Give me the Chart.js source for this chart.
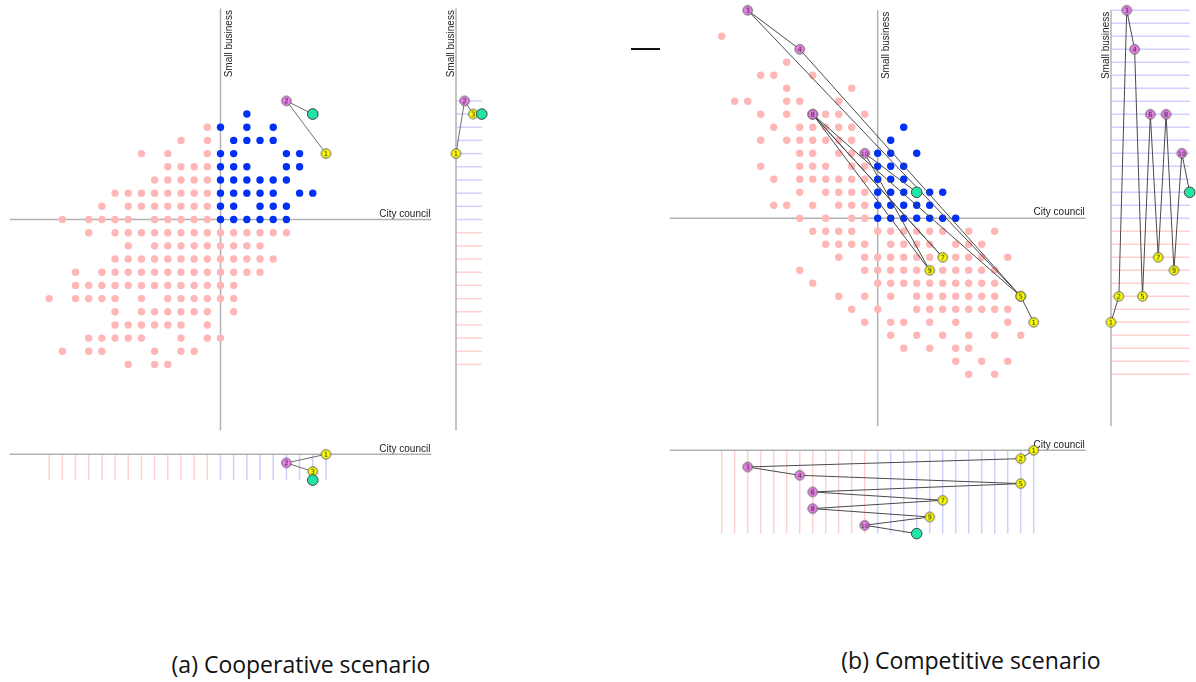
<!DOCTYPE html>
<html>
<head>
<meta charset="utf-8">
<title>Cooperative vs competitive scenario</title>
<script src="https://cdn.jsdelivr.net/npm/chart.js@4.4.1/dist/chart.umd.min.js"></script>
<style>
  html, body { margin: 0; padding: 0; background: #fff; }
  body { width: 1196px; height: 682px; position: relative; overflow: hidden; }
  canvas { position: absolute; left: 0; top: 0; }
  .caption {
    position: absolute; transform: translate(-50%, -50%);
    font-family: "Open Sans", sans-serif; font-size: 23px; color: #111; white-space: nowrap;
  }
  .dash { position: absolute; left: 631px; top: 48px; width: 29px; height: 2px; background: #111; }
</style>
</head>
<body>
<div class="dash"></div>
<div class="caption" style="left:301px; top:664px">(a) Cooperative scenario</div>
<div class="caption" style="left:971px; top:660px">(b) Competitive scenario</div>
<script>
// (a) cooperative scenario - grid of outcomes, one list of columns per row
const coopRows = [8, 7, 6, 5, 4, 3, 2, 1, 0, -1, -2, -3, -4, -5, -6, -7, -8, -9, -10, -11];
const coopCols = [
    [2],
    [-1, 0, 2, 4],
    [-3, -1, 1, 2, 3, 4],
    [-6, -4, -1, 0, 1, 5, 6],
    [-4, -3, -2, -1, 0, 1, 2, 5, 6],
    [-5, -4, -3, -2, -1, 0, 1, 2, 3, 4, 5],
    [-8, -7, -6, -5, -4, -3, -2, -1, 0, 1, 2, 3, 4, 6, 7],
    [-9, -7, -6, -5, -4, -3, -2, -1, 0, 1, 3, 4, 5],
    [-12, -10, -9, -8, -7, -5, -4, -3, -2, -1, 0, 1, 2, 3, 4, 5],
    [-10, -8, -7, -6, -5, -4, -3, -2, -1, 0, 1, 2, 3, 4, 5],
    [-7, -5, -4, -3, -2, -1, 0, 1, 2, 3],
    [-8, -7, -6, -5, -4, -3, -2, -1, 0, 1, 2, 3, 4],
    [-11, -9, -8, -7, -6, -5, -4, -3, -2, -1, 0, 1, 2, 3],
    [-11, -10, -9, -8, -7, -6, -5, -4, -3, -2, -1, 0, 1],
    [-13, -11, -10, -9, -8, -6, -4, -3, -2, -1, 0, 1],
    [-8, -6, -5, -4, -3, -2, -1, 1],
    [-8, -7, -6, -5, -4, -3, -1],
    [-10, -9, -8, -7, -6, -3, -1, 0],
    [-12, -10, -9, -5, -3, -2],
    [-7, -5, -4]
];
// moves 1..3 (council / business), then the final outcome
const coopMoveX = [8, 5, 7];
const coopMoveY = [5, 9, 8];
const coopMover = ['council', 'business', 'council'];
const coopEnd = [7, 8];

// (b) competitive scenario
const compRows = [14, 12, 11, 10, 9, 8, 7, 6, 5, 4, 3, 2, 1, 0, -1, -2, -3, -4, -5, -6, -7, -8, -9, -10, -11, -12];
const compCols = [
    [-12],
    [-7],
    [-9, -8, -5],
    [-7, -2],
    [-11, -10, -7, -6, -3],
    [-9, -7, -4, -3, -1],
    [-8, -6, -5, -4, -3, -2, 2],
    [-9, -7, -6, -5, -4, -3, -2, 1],
    [-6, -5, -3, -2, 0, 1, 3],
    [-9, -6, -5, -4, -2, -1, 0, 1, 2],
    [-8, -6, -5, -4, -3, -2, -1, 0, 1, 2],
    [-6, -4, -3, -2, -1, 0, 1, 2, 3, 4, 5],
    [-8, -7, -5, -3, -2, -1, 0, 1, 2, 3, 4],
    [-6, -4, -2, -1, 0, 1, 2, 3, 4, 5, 6],
    [-5, -4, -3, -2, 0, 1, 2, 3, 4, 5, 7, 9],
    [-4, -3, -2, -1, 1, 2, 3, 4, 6, 7, 8],
    [-3, -1, 0, 1, 2, 3, 4, 6, 7, 8, 10],
    [-6, -1, 0, 1, 2, 3, 5, 6, 7, 8, 9],
    [-5, 0, 1, 2, 3, 4, 5, 6, 7, 8, 9],
    [-3, -1, 1, 3, 4, 5, 6, 7, 8, 9],
    [-2, 0, 3, 4, 5, 6, 7, 8, 9, 10],
    [-1, 1, 2, 4, 6, 10],
    [1, 3, 5, 7, 9, 11],
    [2, 4, 6, 7],
    [6, 8, 10],
    [7, 9]
];
const compMoveX = [12, 11, -10, -6, 11, -5, 5, -5, 4, -1];
const compMoveY = [-8, -6, 16, 13, -6, 8, -3, 8, -4, 5];
const compMover = ['council', 'council', 'business', 'business', 'council', 'business', 'council', 'business', 'council', 'business'];
const compEnd = [3, 2];

const xAxisName = 'City council';
const yAxisName = 'Small business';

const W = 1196, H = 682;
const SPAN = 16;
const PINK = 'rgb(255,182,182)';
const BLUE = 'rgb(0,48,245)';
const STRIP_PINK = 'rgb(255,208,208)';
const STRIP_BLUE = 'rgb(208,208,255)';
const AXIS_GREY = 'rgb(178,178,178)';
const END_GREEN = 'rgb(32,228,168)';
const MOVER_COLORS = { council: '#ffff00', business: '#ee82ee' };
const LABEL_FONT = '10px "Liberation Sans", Arial, sans-serif';

function gridPoints(rows, cols, wantBlue) {
    const pts = [];
    rows.forEach((r, i) => cols[i].forEach(c => {
        if ((r >= 0 && c >= 0) === wantBlue) pts.push({ x: c, y: r });
    }));
    return pts;
}

// small numbered disc used as a point style
function markerIcon(label, mover) {
    const c = document.createElement('canvas');
    c.width = 13; c.height = 13;
    const g = c.getContext('2d');
    g.beginPath();
    g.arc(6.5, 6.5, 4.7, 0, Math.PI * 2);
    g.fillStyle = MOVER_COLORS[mover];
    g.fill();
    g.lineWidth = 1;
    g.strokeStyle = '#555';
    g.stroke();
    g.fillStyle = '#222';
    g.font = (label.length > 1 ? '6px' : '7px') + ' "DejaVu Sans", sans-serif';
    g.textAlign = 'center';
    g.textBaseline = 'middle';
    g.fillText(label, 6.5, 7);
    return c;
}

const line = (data, color, width) => ({ data, showLine: true, borderColor: color, borderWidth: width, pointRadius: 0, clip: false });
const dots = (data, color) => ({ data, backgroundColor: color, borderWidth: 0, pointRadius: 3.7, clip: false });
const endDot = (pt) => ({ data: [pt], backgroundColor: END_GREEN, borderColor: '#444', borderWidth: 1, pointRadius: 5.3, clip: false });
const path = (data, icons, color) => ({
    data, showLine: true, borderColor: color, borderWidth: 1, clip: false,
    pointStyle: [...icons, 'circle'], pointRadius: [...icons.map(() => 5), 0]
});

// first in list is drawn first (bottom)
function stacked(list) {
    list.forEach((d, i) => d.order = list.length - i);
    return list;
}

function hText(ctx, text, x, y) {
    ctx.textAlign = 'right';
    ctx.textBaseline = 'alphabetic';
    ctx.fillText(text, x, y);
}
function vText(ctx, text, x, y) {
    ctx.save();
    ctx.translate(x, y);
    ctx.rotate(-Math.PI / 2);
    ctx.textAlign = 'right';
    ctx.textBaseline = 'alphabetic';
    ctx.fillText(text, 0, 0);
    ctx.restore();
}

function makeChart(area, xScale, yScale, datasets, labels) {
    const canvas = document.createElement('canvas');
    canvas.width = W; canvas.height = H;
    document.body.appendChild(canvas);
    return new Chart(canvas, {
        type: 'scatter',
        data: { datasets: stacked(datasets) },
        options: {
            responsive: false, animation: false, events: [],
            layout: { padding: { left: area.left, top: area.top, right: W - area.right, bottom: H - area.bottom } },
            scales: {
                x: Object.assign({ type: 'linear', display: false }, xScale),
                y: Object.assign({ type: 'linear', display: false }, yScale)
            },
            plugins: { legend: { display: false }, tooltip: { enabled: false } }
        },
        plugins: [{
            id: 'axisNames',
            beforeDatasetsDraw(chart) {
                const ctx = chart.ctx;
                ctx.save();
                ctx.font = LABEL_FONT;
                ctx.fillStyle = '#222';
                labels(ctx, chart.scales.x, chart.scales.y);
                ctx.restore();
            }
        }]
    });
}

function drawPanel(p) {
    const n = p.moveX.length;
    const left = p.ox - SPAN * p.unit, right = p.ox + SPAN * p.unit;
    const top = p.oy - SPAN * p.unit, bottom = p.oy + SPAN * p.unit;
    const icons = p.moveX.map((_, i) => markerIcon(String(i + 1), p.mover[i]));
    const full = { min: -SPAN, max: SPAN };

    // main grid
    const mainPath = p.moveX.map((x, i) => ({ x, y: p.moveY[i] })).concat([{ x: p.end[0], y: p.end[1] }]);
    makeChart({ left, right, top, bottom }, full, full, [
        line([{ x: -SPAN, y: 0 }, { x: SPAN, y: 0 }], AXIS_GREY, 1.5),
        line([{ x: 0, y: -SPAN }, { x: 0, y: SPAN }], AXIS_GREY, 1.5),
        dots(gridPoints(p.rows, p.cols, false), PINK),
        dots(gridPoints(p.rows, p.cols, true), BLUE),
        path(mainPath, icons, p.pathColor),
        endDot({ x: p.end[0], y: p.end[1] })
    ], (ctx, xs, ys) => {
        hText(ctx, xAxisName, xs.getPixelForValue(SPAN) - 1, ys.getPixelForValue(0) - 3);
        vText(ctx, yAxisName, xs.getPixelForValue(0) + 11.5, ys.getPixelForValue(SPAN) + 1.5);
    });

    const allRows = p.rows.concat(p.moveY, [p.end[1]]);
    const allCols = p.cols.flat().concat(p.moveX, [p.end[0]]);

    // side strip: small business position over the moves
    const sideLines = [];
    for (let r = Math.min(...allRows); r <= Math.max(...allRows); r++) {
        sideLines.push(line([{ x: 0, y: r }, { x: n, y: r }], r >= 0 ? STRIP_BLUE : STRIP_PINK, 1.5));
    }
    const sidePath = p.moveY.map((y, i) => ({ x: i, y })).concat([{ x: n, y: p.end[1] }]);
    makeChart({ left: p.sideX, right: p.sideX + n * p.step, top, bottom }, { min: 0, max: n }, full, [
        ...sideLines,
        line([{ x: 0, y: -SPAN }, { x: 0, y: SPAN }], AXIS_GREY, 1.5),
        path(sidePath, icons, p.pathColor),
        endDot({ x: n, y: p.end[1] })
    ], (ctx, xs, ys) => {
        vText(ctx, yAxisName, xs.getPixelForValue(0) - 2.5, ys.getPixelForValue(SPAN) + 1.5);
    });

    // bottom strip: city council position over the moves
    const bottomLines = [];
    for (let c = Math.min(...allCols); c <= Math.max(...allCols); c++) {
        bottomLines.push(line([{ x: c, y: 0 }, { x: c, y: n }], c >= 0 ? STRIP_BLUE : STRIP_PINK, 1.5));
    }
    const bottomPath = p.moveX.map((x, i) => ({ x, y: i })).concat([{ x: p.end[0], y: n }]);
    makeChart({ left, right, top: p.bottomY, bottom: p.bottomY + n * p.step }, full, { min: 0, max: n, reverse: true }, [
        ...bottomLines,
        line([{ x: -SPAN, y: 0 }, { x: SPAN, y: 0 }], AXIS_GREY, 1.5),
        path(bottomPath, icons, p.pathColor),
        endDot({ x: p.end[0], y: n })
    ], (ctx, xs, ys) => {
        hText(ctx, xAxisName, xs.getPixelForValue(SPAN) - 1, ys.getPixelForValue(0) - 2.5);
    });
}

drawPanel({
    rows: coopRows, cols: coopCols, moveX: coopMoveX, moveY: coopMoveY, mover: coopMover, end: coopEnd,
    ox: 220.5, oy: 219.5, unit: 13.18, sideX: 456, bottomY: 454.3, step: 8.6, pathColor: '#707070'
});
drawPanel({
    rows: compRows, cols: compCols, moveX: compMoveX, moveY: compMoveY, mover: compMover, end: compEnd,
    ox: 877.7, oy: 218.3, unit: 13.0, sideX: 1111, bottomY: 450.3, step: 8.33, pathColor: '#4a4a4a'
});
</script>
</body>
</html>
